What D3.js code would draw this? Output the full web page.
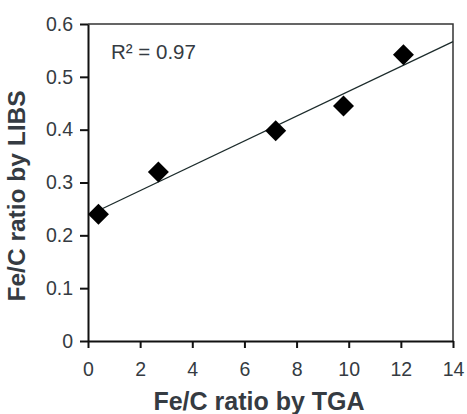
<!DOCTYPE html>
<html><head><meta charset="utf-8">
<script src="https://cdn.jsdelivr.net/npm/d3@7"></script>
<style>body{margin:0;background:#fff}svg{display:block}</style>
</head><body>
<svg id="c" width="467" height="414"></svg>
<script>
const tgaRatio = [0.4, 2.7, 7.2, 9.8, 12.1];
const libsRatio = [0.24, 0.32, 0.398, 0.445, 0.542];
const xTicks = [0, 2, 4, 6, 8, 10, 12, 14];
const yTicks = [0, 0.1, 0.2, 0.3, 0.4, 0.5, 0.6];
const r2Label = "R² = 0.97";
const xTitle = "Fe/C ratio by TGA";
const yTitle = "Fe/C ratio by LIBS";

const svg = d3.select("#c");
const m = {l: 88, r: 14, t: 24, b: 73};
const W = 467, H = 414;
const x = d3.scaleLinear().domain([0, 14]).range([m.l, W - m.r]);
const y = d3.scaleLinear().domain([0, 0.6]).range([H - m.b, m.t]);
const font = "'Liberation Sans', Arial, sans-serif";
const txt = "#353b42";

// frame top/right
svg.append("path")
  .attr("d", `M${x(0)},${y(0.6)}H${x(14)}V${y(0)}`)
  .attr("fill", "none").attr("stroke", "#333").attr("stroke-width", 1.5);

const xa = svg.append("g").attr("transform", `translate(0,${y(0)})`)
  .call(d3.axisBottom(x).tickValues(xTicks).tickSize(7).tickSizeOuter(0).tickPadding(14).tickFormat(d3.format("d")));
const ya = svg.append("g").attr("transform", `translate(${x(0)},0)`)
  .call(d3.axisLeft(y).tickValues(yTicks).tickSize(8).tickSizeOuter(0).tickPadding(7).tickFormat(d => d === 0 ? "0" : d3.format(".1f")(d)));
[xa, ya].forEach(a => {
  a.select(".domain").attr("stroke", "#111").attr("stroke-width", 2);
  a.selectAll(".tick line").attr("stroke", "#111").attr("stroke-width", 2);
  a.selectAll("text").attr("font-family", font).attr("font-size", 19.5).attr("fill", txt);
});

// trendline (least squares)
const mx = d3.mean(tgaRatio), my = d3.mean(libsRatio);
const slope = d3.sum(tgaRatio.map((v, i) => (v - mx) * (libsRatio[i] - my))) / d3.sum(tgaRatio.map(v => (v - mx) ** 2));
const icpt = my - slope * mx;
const x0 = tgaRatio[0], x1 = 14;
svg.append("line")
  .attr("x1", x(x0)).attr("y1", y(icpt + slope * x0))
  .attr("x2", x(x1)).attr("y2", y(icpt + slope * x1))
  .attr("stroke", "#1c2b2b").attr("stroke-width", 1.3);

// diamonds
const sym = d3.symbol().type(d3.symbolSquare).size(220);
svg.selectAll(".pt").data(tgaRatio).join("path")
  .attr("d", sym)
  .attr("transform", (d, i) => `translate(${x(d)},${y(libsRatio[i])}) rotate(45)`)
  .attr("fill", "#000");

svg.append("text").attr("x", 111).attr("y", 59).text(r2Label)
  .attr("font-family", font).attr("font-size", 20.5).attr("fill", txt);

svg.append("text").attr("x", 259).attr("y", 410).attr("text-anchor", "middle").text(xTitle)
  .attr("font-family", font).attr("font-size", 25).attr("font-weight", "bold").attr("fill", txt);
svg.append("text").attr("transform", "translate(25,196) rotate(-90)").attr("text-anchor", "middle").text(yTitle)
  .attr("font-family", font).attr("font-size", 24.5).attr("font-weight", "bold").attr("fill", txt);
</script>
</body></html>
